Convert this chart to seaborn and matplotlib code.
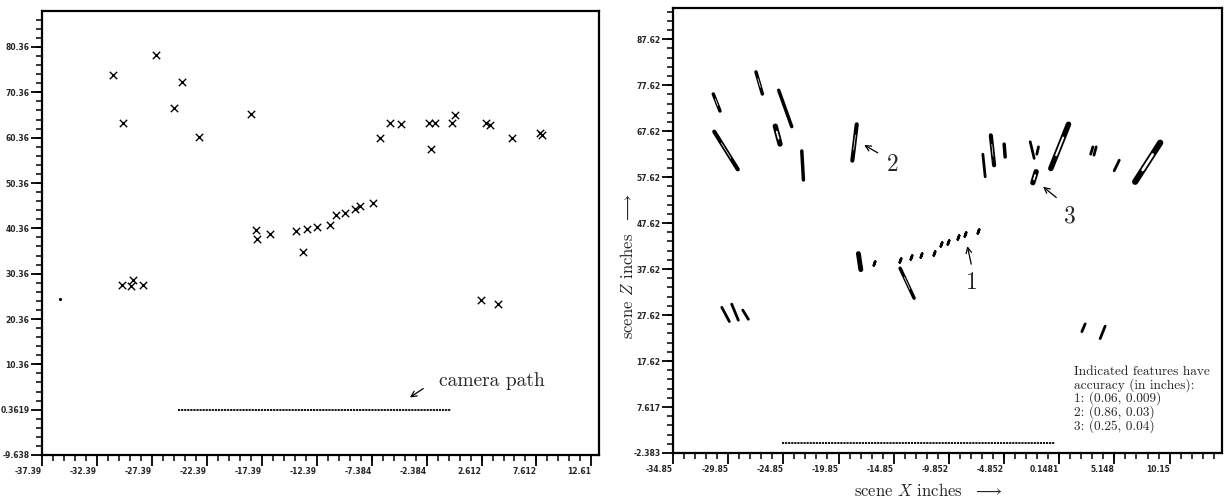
import matplotlib
matplotlib.use("Agg")
import matplotlib.pyplot as plt
import numpy as np
import pandas as pd
import seaborn as sns

# ---- data -------------------------------------------------------------
# left panel: feature positions (x) as recovered
left_x = [-30.94, -27.03, -24.66, -30.03, -25.39, -23.12, -18.39,
          -17.94, -17.85, -16.66, -14.30, -13.30, -12.39, -13.64, -11.2,
          -10.6, -9.84, -8.94, -8.42, -7.27,
          -6.66, -5.75, -4.75, -2.18, -1.60, -1.96, 0.15, -0.05, 3.04,
          3.4, 5.40, 7.97, 8.13,
          -30.15, -29.3, -29.14, -28.18,
          2.52, 4.09]
left_z = [74.2, 78.6, 72.6, 63.6, 66.9, 60.5, 65.6,
          40.0, 38.0, 39.1, 39.8, 40.2, 40.7, 35.1, 41.2,
          43.2, 43.7, 44.6, 45.2, 45.9,
          60.2, 63.7, 63.4, 63.7, 63.7, 57.9, 65.3, 63.5, 63.5,
          63.1, 60.2, 61.3, 60.9,
          27.9, 27.6, 29.0, 27.9,
          24.6, 23.6]
stray_x = [-35.75]
stray_z = [24.7]

# camera path (start/end of the dotted track)
cam_left_x = [-25.0, -0.2]
cam_left_z = [0.36, 0.36]
cam_right_x = [-24.94, -0.22]
cam_right_z = [-0.14, -0.14]

# right panel: uncertainty ellipses as segments (x0, z0, x1, z1)
seg_x0 = [-31.20, -31.11, -27.33, -25.27, -25.58, -23.18, -18.20, -18.05,
          -14.27, -30.43, -29.53, -28.53, -6.77, -6.05, -4.84, -2.48,
          -1.73, 0.99, 3.20, 3.50, 5.59, 9.30, -1.94, 2.20, 3.86]
seg_z0 = [75.7, 67.5, 80.5, 76.5, 68.7, 63.3, 69.1, 41.0,
          37.8, 29.3, 30.0, 28.7, 62.6, 66.7, 64.8, 65.3,
          64.2, 69.1, 64.2, 64.2, 61.3, 65.1, 58.8, 24.0, 22.5]
seg_x1 = [-30.59, -28.98, -26.75, -24.09, -25.15, -23.03, -18.60, -17.83,
          -13.00, -29.74, -28.93, -28.02, -6.56, -5.75, -4.75, -2.12,
          -1.88, -0.61, 3.00, 3.30, 5.13, 7.03, -2.24, 2.50, 4.31]
seg_z1 = [72.0, 59.3, 75.7, 68.6, 64.8, 57.0, 61.2, 37.5,
          31.3, 26.2, 26.5, 26.7, 57.7, 60.2, 62.0, 61.7,
          62.6, 59.5, 62.6, 62.4, 59.0, 56.6, 56.4, 25.7, 25.2]
seg_lw = [2.5, 3.0, 2.5, 2.5, 3.8, 2.5, 3.0, 3.5,
          2.5, 2.0, 2.0, 2.0, 2.0, 3.0, 2.5, 2.0,
          2.0, 4.0, 2.0, 2.0, 2.0, 4.5, 3.8, 2.0, 2.0]
seg_hollow = [1, 1, 1, 0, 1, 0, 1, 0,
              1, 0, 0, 0, 0, 1, 0, 0,
              0, 1, 0, 0, 0, 1, 1, 0, 0]

# right panel: small well-localised features (feature 1 row)
dot_x = [-16.63, -14.27, -13.30, -12.37, -11.16, -10.58, -9.94, -8.98, -8.38, -7.22]
dot_z = [38.86, 39.57, 40.16, 40.66, 41.16, 43.05, 43.55, 44.51, 45.16, 45.94]

# tick labels
left_xticks = [-37.39, -32.39, -27.39, -22.39, -17.39, -12.39, -7.384, -2.384, 2.612, 7.612, 12.61]
left_yticks = [-9.638, 0.3619, 10.36, 20.36, 30.36, 40.36, 50.36, 60.36, 70.36, 80.36]
right_xticks = [-34.85, -29.85, -24.85, -19.85, -14.85, -9.852, -4.852, 0.1481, 5.148, 10.15]
right_yticks = [-2.383, 7.617, 17.62, 27.62, 37.62, 47.62, 57.62, 67.62, 77.62, 87.62]

accuracy_note = ("Indicated features have\naccuracy (in inches):\n"
                 "1: (0.06, 0.009)\n2: (0.86, 0.03)\n3: (0.25, 0.04)")

# ---- style ------------------------------------------------------------
sns.set_style("ticks")
plt.rcParams["mathtext.fontset"] = "cm"
plt.rcParams["font.family"] = ["DejaVu Sans"]
serif = "cmr10"

fig = plt.figure(figsize=(12.28, 4.99), dpi=100)
axL = fig.add_axes([42 / 1228, 44 / 499, 557 / 1228, 444 / 499])
axR = fig.add_axes([673 / 1228, 46 / 499, 549 / 1228, 445 / 499])


def style_axes(ax, xticks, yticks, xlim, ylim, yminor):
    ax.set_xlim(*xlim)
    ax.set_ylim(*ylim)
    ax.set_xticks(xticks)
    ax.set_yticks(yticks)
    ax.set_xticklabels([f"{v:g}" for v in xticks], ha="right")
    ax.set_yticklabels([f"{v:g}" for v in yticks])
    ax.set_xticks(np.arange(xticks[0], xlim[1], 1.0), minor=True)
    ax.set_yticks(np.arange(yticks[0], ylim[1], yminor), minor=True)
    ax.tick_params(which="major", length=8, width=1.3, direction="out",
                   labelsize=5.5, pad=1, color="black")
    ax.tick_params(which="minor", length=4, width=1.1, direction="out", color="black")
    for lab in ax.get_xticklabels() + ax.get_yticklabels():
        lab.set_fontweight("bold")
    for sp in ax.spines.values():
        sp.set_visible(True)
        sp.set_linewidth(1.6)
        sp.set_color("black")
    ax.set_xlabel("")
    ax.set_ylabel("")


# ---- left panel ---------------------------------------------------------
df_left = pd.DataFrame({"x": left_x, "z": left_z})
sns.scatterplot(data=df_left, x="x", y="z", marker="x", s=28, color="black",
                linewidth=1.0, ax=axL)
axL.scatter(stray_x, stray_z, s=1.5, color="black")
axL.plot(cam_left_x, cam_left_z, color="black", lw=1.3, ls=(0, (1.2, 0.5)))
axL.annotate("", xy=(-4.12, 2.72), xytext=(-2.48, 5.36),
             arrowprops=dict(arrowstyle="->", color="black", lw=0.9))
axL.text(-1.30, 6.69, "camera path", family=serif, fontsize=14, va="center", ha="left")
style_axes(axL, left_xticks, left_yticks, (-37.39, 13.3), (-9.638, 88.3), 2.0)

# ---- right panel --------------------------------------------------------
for x0, z0, x1, z1, lw, hol in zip(seg_x0, seg_z0, seg_x1, seg_z1, seg_lw, seg_hollow):
    axR.plot([x0, x1], [z0, z1], color="black", lw=lw, solid_capstyle="round")
    if hol:
        f = 0.3
        axR.plot([x0 + f * (x1 - x0), x1 - f * (x1 - x0)],
                 [z0 + f * (z1 - z0), z1 - f * (z1 - z0)],
                 color="white", lw=max(lw - 2.6, 0.5), solid_capstyle="round")

df_dots = pd.DataFrame({"x": dot_x, "z": dot_z})
sns.scatterplot(data=df_dots, x="x", y="z", marker=(2, 2, -20), s=9,
                color="black", linewidth=1.8, ax=axR)
axR.plot(cam_right_x, cam_right_z, color="black", lw=1.3, ls=(0, (1.2, 0.5)))

arrow = dict(arrowstyle="->", color="black", lw=0.9)
axR.annotate("", xy=(-8.23, 43.2), xytext=(-7.77, 38.1), arrowprops=arrow)
axR.text(-7.77, 34.5, "1", family=serif, fontsize=17, ha="center", va="center")
axR.annotate("", xy=(-17.74, 64.9), xytext=(-16.08, 62.6), arrowprops=arrow)
axR.text(-14.9, 60.2, "2", family=serif, fontsize=17, ha="center", va="center")
axR.annotate("", xy=(-1.51, 55.9), xytext=(0.08, 52.8), arrowprops=arrow)
axR.text(1.14, 49.1, "3", family=serif, fontsize=17, ha="center", va="center")

axR.text(1.5, 16.6, accuracy_note, family=serif, fontsize=9.6, va="top", ha="left",
         linespacing=1.0)

axR.text(0.465, -0.085, r"scene $X$ inches  $\longrightarrow$", transform=axR.transAxes,
         family=serif, fontsize=12, ha="center", va="center")
axR.text(-0.082, 0.42, r"scene $Z$ inches  $\longrightarrow$", transform=axR.transAxes,
         family=serif, fontsize=12, ha="center", va="center", rotation=90)
style_axes(axR, right_xticks, right_yticks, (-34.85, 14.9), (-2.383, 94.4), 2.0)

fig.savefig("out.png", dpi=100)
